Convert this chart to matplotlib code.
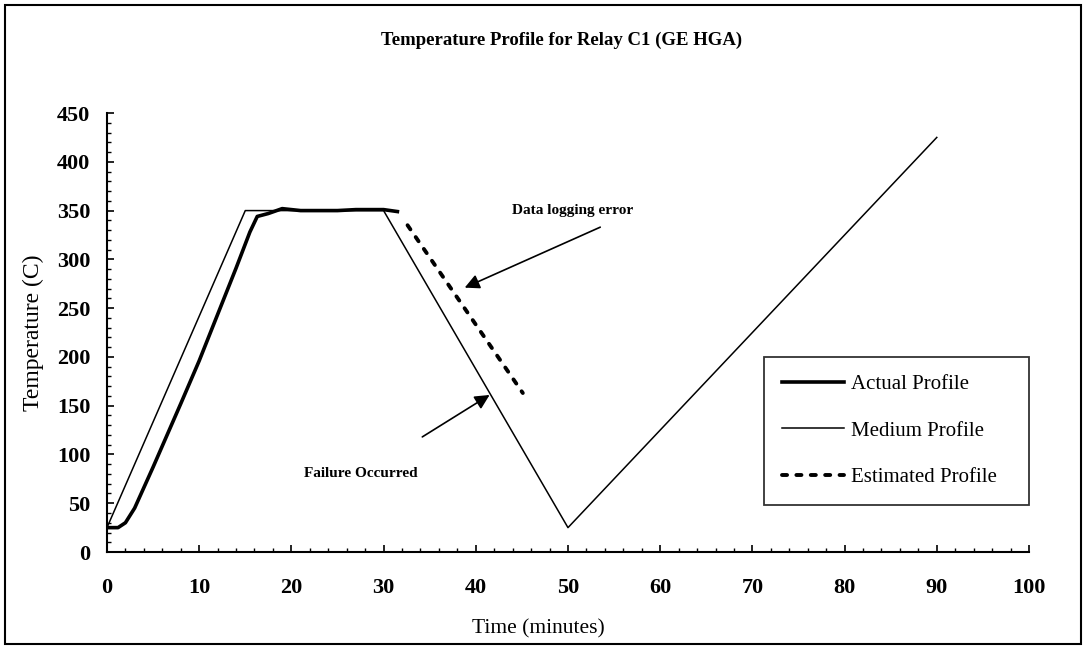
import matplotlib
matplotlib.use("Agg")
import matplotlib.pyplot as plt
from matplotlib.patches import Rectangle
from matplotlib.ticker import MultipleLocator

plt.rcParams['font.family'] = ['Liberation Serif', 'DejaVu Serif']

# Medium profile (oven setpoint)
medium_t = [0, 15, 30, 50, 90]
medium_T = [25, 350, 350, 25, 425]

# Actual profile (thermocouple on relay)
actual_t = [0, 1.2, 2, 3, 5, 8, 10, 14, 15.5, 16.3, 17.5, 19, 21, 25, 27, 30, 31.5]
actual_T = [25, 25, 30, 45, 87, 152, 196, 291, 328, 344, 347, 352, 350, 350, 351, 351, 349]

# Estimated profile (after data logging error)
est_t = [32.6, 45.1]
est_T = [335, 163]

fig = plt.figure(figsize=(10.86, 6.47), dpi=100)
ax = fig.add_axes([0.0985, 0.1468, 0.849, 0.6785])

ax.plot(actual_t, actual_T, color='black', lw=2.6, label='Actual Profile',
        solid_joinstyle='round')
ax.plot(medium_t, medium_T, color='black', lw=1.1, label='Medium Profile')
ax.plot(est_t, est_T, color='black', lw=2.8, linestyle=(0, (1.3, 2.4)),
        dash_capstyle='round', label='Estimated Profile')

ax.set_xlim(0, 100)
ax.set_ylim(0, 450)
ax.xaxis.set_major_locator(MultipleLocator(10))
ax.xaxis.set_minor_locator(MultipleLocator(2))
ax.yaxis.set_major_locator(MultipleLocator(50))
ax.yaxis.set_minor_locator(MultipleLocator(10))

for s in ['top', 'right']:
    ax.spines[s].set_visible(False)
for s in ['left', 'bottom']:
    ax.spines[s].set_linewidth(1.5)

ax.tick_params(which='major', direction='in', length=5, width=1.2, labelsize=16)
ax.tick_params(which='minor', direction='in', length=3, width=1.0)
ax.tick_params(axis='x', which='major', pad=19)
ax.tick_params(axis='y', which='major', pad=12)
for lab in ax.get_xticklabels() + ax.get_yticklabels():
    lab.set_fontweight('bold')

ax.set_xlabel('Time (minutes)', fontsize=15.5)
ax.set_ylabel('Temperature (C)', fontsize=17)
ax.xaxis.set_label_coords(0.468, -0.152)
ax.yaxis.set_label_coords(-0.068, 0.5)
fig.text(0.517, 0.938, 'Temperature Profile for Relay C1 (GE HGA)',
         ha='center', va='center', fontsize=13.5, fontweight='bold')

# annotations
ax.text(50.5, 350, 'Data logging error', fontsize=11, fontweight='bold',
        ha='center', va='center')
ax.annotate('', xy=(38.8, 271), xytext=(53.5, 333),
            arrowprops=dict(arrowstyle='-|>', color='black', lw=1.2,
                            mutation_scale=22, shrinkA=0, shrinkB=0))
ax.annotate('', xy=(41.5, 161), xytext=(34.2, 118),
            arrowprops=dict(arrowstyle='-|>', color='black', lw=1.2,
                            mutation_scale=22, shrinkA=0, shrinkB=0))
ax.text(27.5, 81, 'Failure Occurred', fontsize=11, fontweight='bold',
        ha='center', va='center')

leg = ax.legend(loc='lower left', bbox_to_anchor=(0.7126, 0.107, 0.2874, 0.35),
                mode='expand', borderaxespad=0, fontsize=15, frameon=True,
                fancybox=False, edgecolor='black', handlelength=3.0,
                labelspacing=1.3, borderpad=0.85, handletextpad=0.35)
leg.get_frame().set_linewidth(1.3)

# outer chart border
fig.patches.append(Rectangle((0.005, 0.005), 0.99, 0.988, transform=fig.transFigure,
                             fill=False, edgecolor='black', lw=1.5))

fig.savefig('out.png', dpi=100)
